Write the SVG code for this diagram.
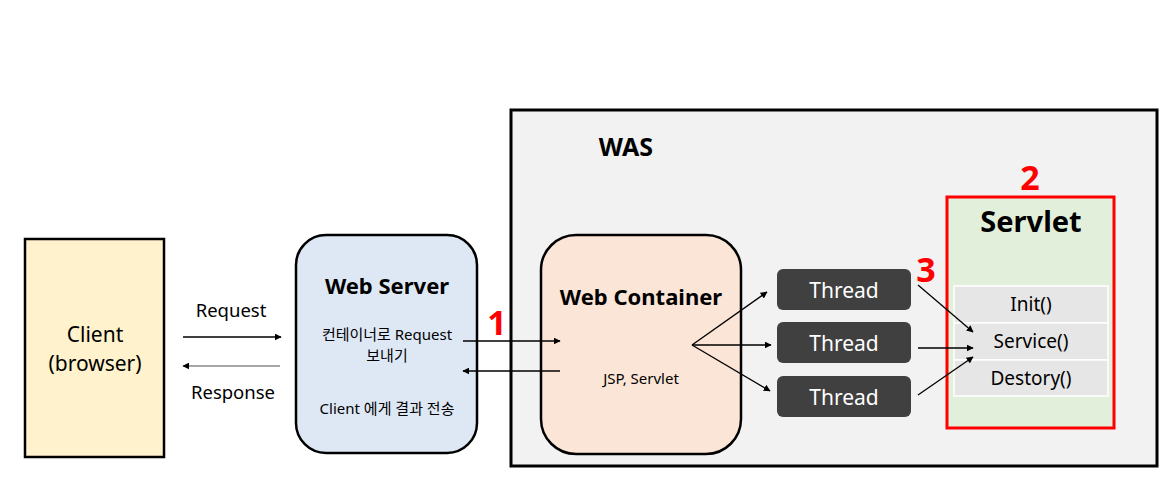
<svg xmlns="http://www.w3.org/2000/svg" width="1169" height="490" viewBox="0 0 1169 490">
<defs>
<marker id="ah" viewBox="0 0 10 10" refX="9" refY="5" markerWidth="7" markerHeight="7" markerUnits="userSpaceOnUse" orient="auto"><path d="M0,0 L10,5 L0,10 z" fill="#000"/></marker>
<style>
text{font-family:"Noto Sans","Noto Sans CJK KR",sans-serif;fill:#000;text-anchor:middle}
.b{font-weight:bold}
.red{fill:#ff0000;font-weight:bold;font-size:34px}
.ln{stroke:#000;stroke-width:1.3;fill:none;marker-end:url(#ah)}
.th{fill:#404040}
.tt{fill:#fff;font-size:21px}
.m{fill:#e7e6e6;stroke:#fff;stroke-width:1.5}
.mt{font-size:19px}
.s{font-size:15px}
</style>
</defs>
<rect width="1169" height="490" fill="#fff"/>
<g id="was">
<rect x="511" y="110" width="646" height="356" fill="#f2f2f2" stroke="#000" stroke-width="3"/>
<text x="626" y="156" class="b" style="font-size:25px">WAS</text>
</g>
<g id="client">
<rect x="25" y="239" width="139" height="218" fill="#fff2cc" stroke="#000" stroke-width="2.5"/>
<text x="95" y="342" style="font-size:21px">Client</text>
<text x="95" y="371" style="font-size:21px">(browser)</text>
</g>
<g id="webserver">
<rect x="296" y="235" width="181" height="218" rx="30" fill="#dee8f5" stroke="#000" stroke-width="2.5"/>
<text x="387" y="294" class="b" style="font-size:22px">Web Server</text>
<text x="387" y="340" class="s">컨테이너로 Request</text>
<text x="387" y="361" class="s">보내기</text>
<text x="387" y="414" class="s">Client 에게 결과 전송</text>
</g>
<g id="webcontainer">
<rect x="541" y="235" width="200" height="219" rx="35" fill="#fbe5d6" stroke="#000" stroke-width="2.5"/>
<text x="641" y="305" class="b" style="font-size:22px">Web Container</text>
<text x="641" y="384" class="s">JSP, Servlet</text>
</g>
<g id="thread1"><rect class="th" x="777" y="269" width="134" height="41" rx="6"/><text class="tt" x="844" y="298">Thread</text></g>
<g id="thread2"><rect class="th" x="777" y="322" width="134" height="41" rx="6"/><text class="tt" x="844" y="351">Thread</text></g>
<g id="thread3"><rect class="th" x="777" y="376" width="134" height="41" rx="6"/><text class="tt" x="844" y="405">Thread</text></g>
<g id="servlet">
<rect x="947" y="197" width="167" height="231" fill="#e2efda" stroke="#ff0000" stroke-width="3"/>
<text x="1031" y="232" class="b" style="font-size:29px">Servlet</text>
<rect class="m" x="954" y="286" width="154" height="37"/>
<rect class="m" x="954" y="323" width="154" height="37"/>
<rect class="m" x="954" y="360" width="154" height="36"/>
<text class="mt" x="1031" y="311">Init()</text>
<text class="mt" x="1031" y="348">Service()</text>
<text class="mt" x="1031" y="385">Destory()</text>
</g>
<g id="labels">
<text x="231" y="317" style="font-size:18.5px">Request</text>
<text x="233" y="399" style="font-size:18.5px">Response</text>
<text class="red" x="497" y="335">1</text>
<text class="red" x="1030" y="190">2</text>
<text class="red" x="926" y="282">3</text>
</g>
<g id="connectors">
<line class="ln" x1="183" y1="337" x2="281" y2="337"/>
<line class="ln" x1="280" y1="366" x2="183" y2="366" style="stroke:#888"/>
<line class="ln" x1="463" y1="341" x2="560" y2="341"/>
<line class="ln" x1="560" y1="371" x2="463" y2="371"/>
<line class="ln" x1="692" y1="345" x2="767" y2="292"/>
<line class="ln" x1="692" y1="345" x2="771" y2="345"/>
<line class="ln" x1="692" y1="345" x2="770" y2="391"/>
<line class="ln" x1="918" y1="285" x2="973" y2="332"/>
<line class="ln" x1="918" y1="348" x2="973" y2="348"/>
<line class="ln" x1="918" y1="395" x2="973" y2="357"/>
</g>
</svg>
